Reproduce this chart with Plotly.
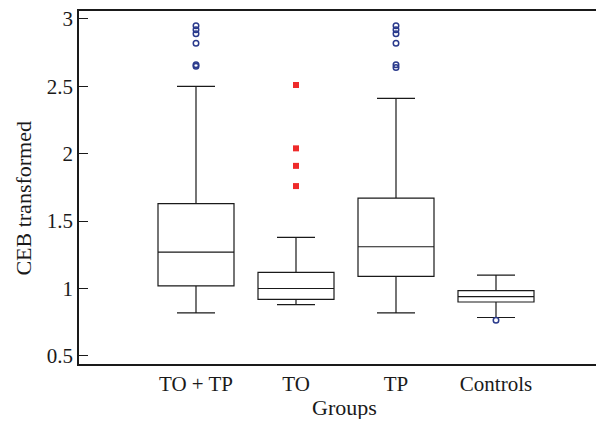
import plotly.graph_objects as go

groups = ["TO + TP", "TO", "TP", "Controls"]
q1 = [1.02, 0.92, 1.09, 0.90]
median = [1.27, 1.00, 1.31, 0.94]
q3 = [1.63, 1.12, 1.67, 0.985]
lower_whisker = [0.82, 0.88, 0.82, 0.785]
upper_whisker = [2.50, 1.38, 2.41, 1.10]

outliers_circle = {
    "TO + TP": [2.95, 2.92, 2.89, 2.82, 2.66, 2.65],
    "TP": [2.95, 2.92, 2.89, 2.82, 2.66, 2.64],
    "Controls": [0.765],
}
outliers_square = {
    "TO": [2.51, 2.04, 1.91, 1.76],
}

x_title = "Groups"
y_title = "CEB transformed"

font = "Liberation Serif, Times New Roman, serif"

fig = go.Figure()
fig.add_trace(go.Box(
    x=groups, q1=q1, median=median, q3=q3,
    lowerfence=lower_whisker, upperfence=upper_whisker,
    fillcolor="white", line=dict(color="#1a1a1a", width=1.2),
    width=0.76, whiskerwidth=0.5, boxpoints=False, showlegend=False,
    hoverinfo="skip",
))

cx, cy = [], []
for g, vals in outliers_circle.items():
    cx += [g] * len(vals)
    cy += vals
fig.add_trace(go.Scatter(
    x=cx, y=cy, mode="markers", showlegend=False,
    marker=dict(symbol="circle-open", size=5.5, color="#2a3a8c", line=dict(width=1.5)),
))
sx, sy = [], []
for g, vals in outliers_square.items():
    sx += [g] * len(vals)
    sy += vals
fig.add_trace(go.Scatter(
    x=sx, y=sy, mode="markers", showlegend=False,
    marker=dict(symbol="square", size=6, color="#ee2b2b"),
))

fig.update_layout(
    width=588, height=411,
    margin=dict(l=71, r=0, t=3, b=55),
    plot_bgcolor="white", paper_bgcolor="white",
    font=dict(family=font, size=21, color="#1a1a1a"),
    xaxis=dict(
        type="category", categoryorder="array", categoryarray=groups,
        range=[-1.17, 4.0], showgrid=False, zeroline=False,
        showline=True, linecolor="#1a1a1a", linewidth=1.5, mirror=True,
        ticks="", automargin=False,
    ),
    yaxis=dict(
        range=[0.44, 3.059], tickvals=[0.5, 1, 1.5, 2, 2.5, 3],
        ticktext=["0.5", "1", "1.5", "2", "2.5", "3"],
        showgrid=False, zeroline=False, automargin=False,
        showline=True, linecolor="#1a1a1a", linewidth=1.5,
        ticks="inside", ticklen=9, tickcolor="#1a1a1a",
        ticklabeloverflow="allow",
    ),
    annotations=[
        dict(text=x_title, xref="paper", yref="paper", x=0.5145, y=-0.122,
             xanchor="center", yanchor="middle", showarrow=False,
             font=dict(family=font, size=22, color="#1a1a1a")),
        dict(text=y_title, xref="paper", yref="paper", x=-0.108, y=0.469,
             xanchor="center", yanchor="middle", showarrow=False, textangle=-90,
             font=dict(family=font, size=22, color="#1a1a1a")),
    ],
)

fig.write_html("out.html")
